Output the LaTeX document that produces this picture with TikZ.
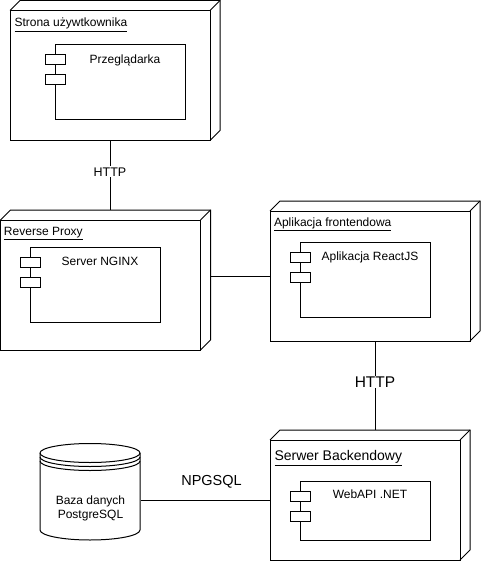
\documentclass[tikz,border=0pt]{standalone}
\usepackage{fontspec}
\setmainfont{Liberation Sans}
\usetikzlibrary{calc}

\newlength{\du}
\setlength{\du}{1pt}
\definecolor{dialinecolor}{rgb}{0.000000, 0.000000, 0.000000}

\tikzset{
  nodebox/.style={draw=dialinecolor, fill=white, anchor=north west, inner sep=0pt, outer sep=0pt,
    minimum width=200\du, minimum height=130\du},
  compbox/.style={draw=dialinecolor, fill=white, anchor=north west, inner sep=0pt, outer sep=0pt,
    minimum width=130\du, minimum height=75\du},
  port/.style={draw=dialinecolor, fill=white},
  nodetitle/.style={anchor=base west, inner sep=0pt, font=\fontsize{12}{14}\selectfont},
  comptitle/.style={anchor=base, inner sep=0pt, font=\fontsize{12}{14}\selectfont},
  edgelabel/.style={fill=white, inner sep=1pt, font=\fontsize{12.5}{15}\selectfont},
  dbtext/.style={align=center, inner sep=0pt, minimum width=100\du, font=\fontsize{12}{14}\selectfont},
}

\begin{document}
\begin{tikzpicture}[line width=1\du]
\pgftransformxscale{1.000000}
\pgftransformyscale{-1.000000}
\pgfsetlinewidth{1.000000\du}
\fill[white] (0\du,0\du) rectangle (481\du,561\du);
\useasboundingbox (0\du,0\du) rectangle (481\du,561\du);

% nodes (front faces)
\node[nodebox] (user) at (10\du,10.5\du) {};
\node[nodebox] (proxy) at (0.5\du,220\du) {};
\node[nodebox] (front) at (270\du,211\du) {};
\node[nodebox, minimum width=190\du, minimum height=120\du] (back) at (270\du,440\du) {};

% 3d sides
\foreach \n in {user,proxy,front,back} {
  \draw (\n.north west) -- ++(10\du,-10\du) -| ($(\n.south east)+(10\du,-10\du)$) -- (\n.south east);
  \draw (\n.north east) -- ++(10\du,-10\du);
}

% setfont left to latex
\node[nodetitle] (usertitle) at (14\du,27\du) {\underline{Strona używtkownika}};
\node[nodetitle] (proxytitle) at (3.5\du,235.5\du) {\underline{Reverse Proxy}};
\node[nodetitle] (fronttitle) at (273.5\du,226\du) {\underline{Aplikacja frontendowa}};
\node[nodetitle, font=\fontsize{14}{16}\selectfont] (backtitle) at (274\du,460.5\du) {\underline{Serwer Backendowy}};

% components
\node[compbox] (browser) at (55\du,45\du) {};
\node[compbox] (nginx) at (30\du,247\du) {};
\node[compbox] (react) at (300\du,242\du) {};
\node[compbox, minimum height=59\du] (webapi) at (300\du,481\du) {};
\foreach \c in {browser,nginx,react,webapi} {
  \foreach \dy in {10,30}
    \draw[port] ($(\c.north west)+(-10\du,\dy\du)$) rectangle ++(20\du,10\du);
}
\node[comptitle] (browsertitle) at (125\du,63.5\du) {Przeglądarka};
\node[comptitle] (nginxtitle) at (100\du,265.5\du) {Server NGINX};
\node[comptitle] (reacttitle) at (370\du,260.5\du) {Aplikacja ReactJS};
\node[comptitle] (webapititle) at (370\du,498.5\du) {WebAPI .NET};

% database
\draw[fill=white] (40\du,453\du) -- (40\du,530\du)
  arc[start angle=180, end angle=0, x radius=50\du, y radius=10\du]
  -- (140\du,453\du)
  arc[start angle=0, end angle=-180, x radius=50\du, y radius=9.5\du] -- cycle;
\draw (40\du,453\du) arc[start angle=180, end angle=0, x radius=50\du, y radius=9.5\du];
\draw (40\du,457\du) arc[start angle=180, end angle=0, x radius=50\du, y radius=9.5\du];
\draw (40\du,461\du) arc[start angle=180, end angle=0, x radius=50\du, y radius=9.5\du];
\node[dbtext] (db) at (90.5\du,508\du) {Baza danych\\PostgreSQL};

% connectors
\coordinate (proxytop) at ($(proxy.north)+(10\du,-10\du)$);
\coordinate (backtop) at ($(back.north)+(10\du,-10\du)$);
\draw (user.south) -- node[edgelabel, pos=0.45] (http1) {HTTP} (user.south |- proxytop);
\draw ($(proxy.east |- front.west)+(10\du,0\du)$) -- (front.west);
\draw (front.south -| backtop) -- node[edgelabel, pos=0.46, font=\fontsize{15.5}{18}\selectfont] (http2) {HTTP} (backtop);
\draw (db.east |- back.west) -- (back.west);
\node[font=\fontsize{14.5}{17}\selectfont, inner sep=0pt] (npgsql) at (211.5\du,481.7\du) {NPGSQL};
\end{tikzpicture}
\end{document}
